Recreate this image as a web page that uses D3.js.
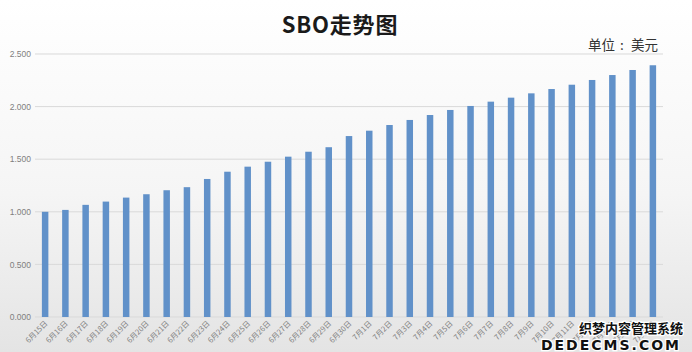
<!DOCTYPE html>
<html>
<head>
<meta charset="utf-8">
<script src="https://cdn.jsdelivr.net/npm/d3@7/dist/d3.min.js"></script>
<style>
  html, body { margin: 0; padding: 0; background: #fff; }
  svg { display: block; font-family: "Noto Sans CJK SC", "Noto Sans", sans-serif; }
</style>
</head>
<body>
<svg id="chart"></svg>
<script>
// data
const dates = [
  "6月15日", "6月16日", "6月17日", "6月18日", "6月19日", "6月20日", "6月21日", "6月22日",
  "6月23日", "6月24日", "6月25日", "6月26日", "6月27日", "6月28日", "6月29日", "6月30日",
  "7月1日", "7月2日", "7月3日", "7月4日", "7月5日", "7月6日", "7月7日", "7月8日",
  "7月9日", "7月10日", "7月11日", "7月12日", "7月13日", "7月14日", "7月15日"
];
const prices = [
  1.000, 1.018, 1.066, 1.097, 1.135, 1.167, 1.205, 1.234,
  1.312, 1.381, 1.429, 1.476, 1.524, 1.571, 1.614, 1.720,
  1.771, 1.825, 1.873, 1.920, 1.968, 2.006, 2.047, 2.085,
  2.126, 2.167, 2.208, 2.253, 2.300, 2.348, 2.393
];
const yTicks = [0, 0.5, 1.0, 1.5, 2.0, 2.5];

const width = 692, height = 352;
const svg = d3.select("#chart").attr("width", width).attr("height", height);

// background gradient
const defs = svg.append("defs");
const bg = defs.append("linearGradient")
  .attr("id", "bg-grad")
  .attr("x1", "0%").attr("y1", "0%")
  .attr("x2", "0%").attr("y2", "100%");
bg.append("stop").attr("offset", "0%").attr("stop-color", "#ffffff");
bg.append("stop").attr("offset", "55%").attr("stop-color", "#f5f5f5");
bg.append("stop").attr("offset", "100%").attr("stop-color", "#e4e4e4");

svg.append("rect")
  .attr("width", width)
  .attr("height", height)
  .attr("fill", "url(#bg-grad)");

const x = d3.scaleBand()
  .domain(dates)
  .range([35, 663])
  .paddingInner(0.68)
  .paddingOuter(0.34);

const y = d3.scaleLinear()
  .domain([0, 2.5])
  .range([317, 54]);

// gridlines
svg.append("g")
  .selectAll("line")
  .data(yTicks)
  .join("line")
  .attr("x1", 35)
  .attr("x2", 663)
  .attr("y1", d => y(d))
  .attr("y2", d => y(d))
  .attr("stroke", "#d9d9d9")
  .attr("stroke-width", 1);

// y axis labels
const yAxis = svg.append("g")
  .attr("transform", "translate(31,0)")
  .call(d3.axisLeft(y).tickValues(yTicks).tickFormat(d3.format(".3f")).tickSize(0).tickPadding(0));
yAxis.select(".domain").remove();
yAxis.selectAll("text")
  .attr("fill", "#7f7f7f")
  .attr("font-size", 8.5)
  .attr("font-family", "Arial, 'Liberation Sans', sans-serif");

// bars
svg.append("g")
  .selectAll("rect")
  .data(prices)
  .join("rect")
  .attr("x", (d, i) => x(dates[i]))
  .attr("width", x.bandwidth())
  .attr("y", d => y(d))
  .attr("height", d => y(0) - y(d))
  .attr("fill", "#6191c9");

// x axis labels, rotated
svg.append("g")
  .selectAll("text")
  .data(dates)
  .join("text")
  .attr("transform", d => `translate(${x(d) + x.bandwidth() / 2 + 3},${y(0) + 7}) rotate(-45)`)
  .attr("text-anchor", "end")
  .attr("font-size", 7.5)
  .attr("fill", "#7f7f7f")
  .text(d => d);

// title
svg.append("text")
  .attr("x", 340)
  .attr("y", 33)
  .attr("text-anchor", "middle")
  .attr("font-size", 22)
  .attr("font-weight", "bold")
  .attr("letter-spacing", 0.8)
  .attr("fill", "#1a1a1a")
  .text("SBO走势图");

// unit note
const unit = svg.append("text")
  .attr("y", 50)
  .attr("font-size", 13.5)
  .attr("fill", "#333");
unit.append("tspan").attr("x", 588).text("单位");
unit.append("tspan").attr("x", 620).text(":");
unit.append("tspan").attr("x", 631).text("美元");

// watermark in the corner
const wm = svg.append("g")
  .attr("font-weight", "bold")
  .attr("fill", "#111")
  .attr("stroke", "#fff")
  .attr("stroke-width", 2.5)
  .attr("paint-order", "stroke");
wm.append("text")
  .attr("x", 683).attr("y", 333)
  .attr("text-anchor", "end")
  .attr("font-size", 13)
  .text("织梦内容管理系统");
wm.append("text")
  .attr("x", 681).attr("y", 350)
  .attr("text-anchor", "end")
  .attr("font-size", 14)
  .attr("font-family", "'DejaVu Sans', sans-serif")
  .attr("letter-spacing", 2)
  .text("DEDECMS.COM");
</script>
</body>
</html>
